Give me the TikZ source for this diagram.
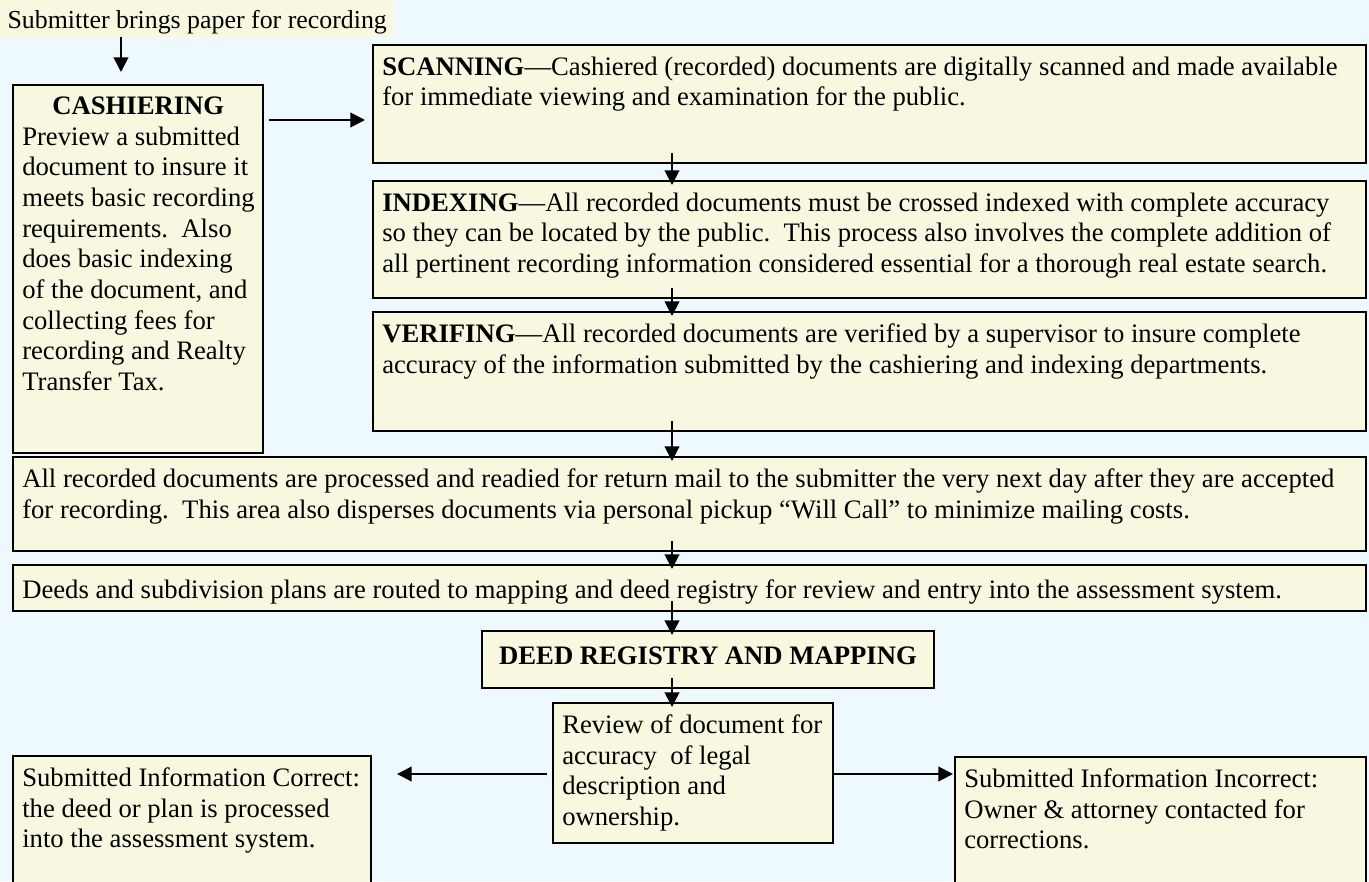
\documentclass[tikz,border=0pt]{standalone}
\usepackage{fontspec}
\setmainfont{Liberation Serif}
\usetikzlibrary{arrows.meta,calc}
\definecolor{pagebg}{RGB}{238,248,255}
\definecolor{boxfill}{RGB}{248,248,224}
\tikzset{
  box/.style={draw=black, line width=1.5pt, fill=boxfill, outer sep=0pt, inner sep=0pt, anchor=north west},
  boxtext/.style={anchor=north west, align=left, inner xsep=6.75pt, inner ysep=8.6pt, execute at begin node=\strut},
  arr/.style={line width=1.5pt, -{Triangle[length=11pt,width=11pt]}},
}
\begin{document}
\begin{tikzpicture}[x=0.75pt, y=-0.75pt, font=\fontsize{20}{23}\selectfont]
        \useasboundingbox (0,0) rectangle (1369,881);
        \fill[pagebg] (0,0) rectangle (1369,881);
        \clip (0,0) rectangle (1369,881);
%%% Start submitter / cashiering
        \node[box, draw=none, minimum width=295pt, minimum height=27.75pt] (banner) at (0,0) {};
        \node[boxtext, inner xsep=5.5pt, inner ysep=4.8pt, font=\fontsize{19.4}{23}\selectfont] (bannertext) at (banner.north west) {Submitter brings paper for recording};
        \node[box, minimum width=187.5pt, minimum height=276pt] (cash) at (13,85) {};
        \node[boxtext] (cashtext) at (cash.north west) {\makebox[174pt][c]{\textbf{CASHIERING}}\\
          Preview a submitted\\ document to insure it\\ meets basic recording\\ requirements.\ \ Also\\
          does basic indexing\\ of the document, and\\ collecting fees for\\ recording and Realty\\ Transfer Tax.};
%%% End submitter / cashiering
%%% Start right column
        \node[box, minimum width=744.75pt, minimum height=88.5pt] (scan) at (373,45) {};
        \node[boxtext] (scantext) at (scan.north west) {\textbf{SCANNING}---Cashiered (recorded) documents are digitally scanned and made available\\
          for immediate viewing and examination for the public.};
        \node[box, minimum width=744.75pt, minimum height=87.75pt] (index) at (373,181) {};
        \node[boxtext] (indextext) at (index.north west) {\textbf{INDEXING}---All recorded documents must be crossed indexed with complete accuracy\\
          so they can be located by the public.\ \ This process also involves the complete addition of\\
          all pertinent recording information considered essential for a thorough real estate search.};
        \node[box, minimum width=744.75pt, minimum height=89.25pt] (verif) at (373,312) {};
        \node[boxtext] (veriftext) at (verif.north west) {\textbf{VERIFING}---All recorded documents are verified by a supervisor to insure complete\\
          accuracy of the information submitted by the cashiering and indexing departments.};
%%% End right column
%%% Start full width rows
        \node[box, minimum width=1014.75pt, minimum height=70.5pt] (allrec) at (13,457) {};
        \node[boxtext] (allrectext) at (allrec.north west) {All recorded documents are processed and readied for return mail to the submitter the very next day after they are accepted\\
          for recording.\ \ This area also disperses documents via personal pickup ``Will Call'' to minimize mailing costs.};
        \node[box, minimum width=1014.75pt, minimum height=34.5pt] (deeds) at (13,565) {};
        \node[boxtext] (deedstext) at (deeds.north west) {Deeds and subdivision plans are routed to mapping and deed registry for review and entry into the assessment system.};
%%% End full width rows
%%% Start deed registry
        \node[box, minimum width=339pt, minimum height=42.75pt] (reg) at (482,631) {};
        \node[boxtext, anchor=north, align=center] (regtext) at (reg.north) {\textbf{DEED REGISTRY AND MAPPING}};
        \node[box, minimum width=210pt, minimum height=105pt] (review) at (553,703) {};
        \node[boxtext] (reviewtext) at (review.north west) {Review of document for\\ accuracy\ \ of legal\\ description and\\ ownership.};
        \node[box, minimum width=268.5pt, minimum height=112.5pt] (correct) at (13,756) {};
        \node[boxtext] (correcttext) at (correct.north west) {Submitted Information Correct:\\ the deed or plan is processed\\ into the assessment system.};
        \node[box, minimum width=308.25pt, minimum height=112.5pt] (incorrect) at (955,757) {};
        \node[boxtext] (incorrecttext) at (incorrect.north west) {Submitted Information Incorrect:\\ Owner \& attorney contacted for\\ corrections.};
%%% End deed registry
%%% Start arrows
        \coordinate (cashin) at (121,72);
        \coordinate (row1) at (0,120);
        \coordinate (row2) at (0,774);
        \coordinate (spine) at (672,0);
        \draw[arr] (banner.south -| cashin) -- (cashin);
        \draw[arr] ($(cash.east |- row1)+(6,0)$) -- ($(scan.west |- row1)+(-8,0)$);
        \foreach \a/\b in {scan/index, index/verif, verif/allrec, allrec/deeds, deeds/reg, reg/review}
          \draw[arr] ($(\a.south -| spine)+(0,-10)$) -- ($(\b.north -| spine)+(0,4)$);
        \draw[arr] ($(review.west |- row2)+(-6,0)$) -- ($(correct.east |- row2)+(26,0)$);
        \draw[arr] (review.east |- row2) -- ($(incorrect.west |- row2)+(-2,0)$);
%%% End arrows
\end{tikzpicture}
\end{document}
